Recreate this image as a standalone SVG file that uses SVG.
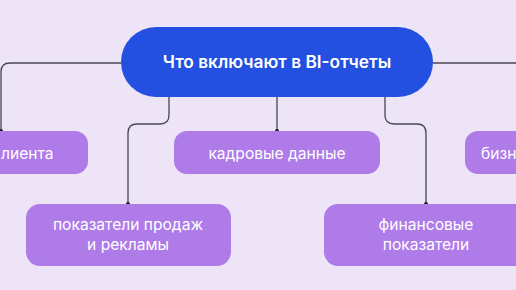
<svg xmlns="http://www.w3.org/2000/svg" width="516" height="290" viewBox="0 0 516 290">
<style>
.bg{fill:#EEE4F8}
.leaf{fill:#AE7BE8}
.root{fill:#2350E0}
.t{font-family:Inter,"Open Sans","Liberation Sans",sans-serif;font-size:15.6px;fill:#FFFFFF;text-anchor:middle}
.tr{font-family:Inter,"Open Sans","Liberation Sans",sans-serif;font-size:17.3px;font-weight:600;fill:#FFFFFF;text-anchor:middle}
.c{fill:none;stroke:#4A4650;stroke-width:1.3}
.d{fill:#1E1B22}
</style>
<rect class="bg" x="0" y="0" width="516" height="290"/>
<g id="connectors">
<path class="c" d="M121 63 H10 Q1 63 1 72 V131"/>
<path class="c" d="M433 63 H516"/>
<path class="c" d="M277 97 V131"/>
<path class="c" d="M169 97 V115 Q169 124 160 124 H137 Q128 124 128 133 V204"/>
<path class="c" d="M385 97 V115 Q385 124 394 124 H417 Q426 124 426 133 V204"/>
<circle class="d" cx="1" cy="131" r="2"/>
<circle class="d" cx="277" cy="131" r="2"/>
<circle class="d" cx="128" cy="204" r="2"/>
<circle class="d" cx="426" cy="204" r="2"/>
</g>
<g id="root">
<rect class="root" x="121" y="27" width="312" height="70" rx="35"/>
<text class="tr" x="277" y="68">Что включают в BI-отчеты</text>
</g>
<g id="client">
<rect class="leaf" x="-120" y="131" width="208" height="43" rx="13"/>
<text class="t" x="1" y="159" style="text-anchor:start">лиента</text>
</g>
<g id="hr">
<rect class="leaf" x="174" y="131" width="206" height="43" rx="13"/>
<text class="t" x="277" y="159">кадровые данные</text>
</g>
<g id="business">
<rect class="leaf" x="465" y="131" width="200" height="43" rx="13"/>
<text class="t" x="481" y="159" style="text-anchor:start">бизн</text>
</g>
<g id="sales">
<rect class="leaf" x="26" y="204" width="205" height="62" rx="14"/>
<text class="t" x="128" y="229.5">показатели продаж</text>
<text class="t" x="128" y="249.5">и рекламы</text>
</g>
<g id="finance">
<rect class="leaf" x="324" y="204" width="205" height="62" rx="14"/>
<text class="t" x="426" y="229.5">финансовые</text>
<text class="t" x="426" y="249.5">показатели</text>
</g>
</svg>
